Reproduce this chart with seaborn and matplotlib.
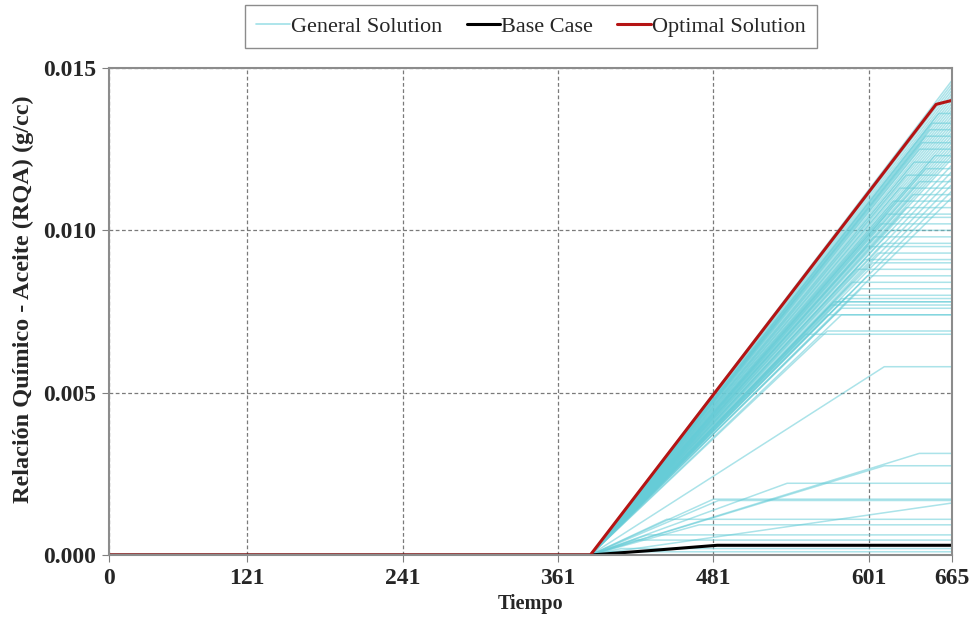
import numpy as np
import pandas as pd
import matplotlib
matplotlib.use("Agg")
import matplotlib.pyplot as plt
from matplotlib.lines import Line2D
import seaborn as sns

# curvas generales: todas arrancan en t=386 con 0, suben hasta (corte, pico) y luego quedan planas
inicio = 386
t_fin = 665
gen_corte = [665, 665, 665, 665, 665, 665, 665, 665, 665, 665,
             665, 665, 665, 665, 665, 665, 665, 665, 665, 665,
             665, 665, 665, 665, 665, 665, 665, 665, 665, 665, 665,
             655, 650, 648, 645, 642, 640, 652, 636, 645, 630,
             640, 625, 635, 620, 630, 615, 625, 610, 618, 605,
             612, 600, 608, 598, 604, 592, 600, 588, 595, 585,
             580, 576, 574, 572, 580, 569, 580, 569, 552, 613,
             640, 613, 538, 481, 485, 665, 445, 470, 430, 420, 410, 400]
gen_pico = [0.0146, 0.0145, 0.0144, 0.0143, 0.0142, 0.0141, 0.0140, 0.0139, 0.0138, 0.0137,
            0.0136, 0.0135, 0.0134, 0.0133, 0.0132, 0.0131, 0.0130, 0.0129, 0.0128, 0.0127,
            0.0126, 0.0125, 0.0124, 0.0123, 0.0122, 0.0120, 0.0118, 0.0116, 0.0114, 0.0112, 0.0110,
            0.0136, 0.0133, 0.0131, 0.0129, 0.0127, 0.0125, 0.0123, 0.0121, 0.0119, 0.0117,
            0.0115, 0.0113, 0.0111, 0.0109, 0.0107, 0.0105, 0.0104, 0.0102, 0.0100, 0.0098,
            0.0096, 0.0095, 0.0093, 0.0091, 0.0090, 0.0088, 0.0086, 0.0084, 0.0082, 0.0080,
            0.0079, 0.0078, 0.0078, 0.0077, 0.0076, 0.0074, 0.0074, 0.0069, 0.0068, 0.0058,
            0.00313, 0.00275, 0.00221, 0.00172, 0.00168, 0.00160, 0.0011, 0.00093, 0.00062, 0.00046, 0.0002, 0.0001]

base_t = [14, 386, 430, 484, 665]
base_v = [0.0, 0.0, 0.00013, 0.0003, 0.0003]

opt_t = [14, 386, 653, 665]
opt_v = [0.0, 0.0, 0.01388, 0.0140]

x_ticks = [14, 121, 241, 361, 481, 601, 665]
x_labels = ["0", "121", "241", "361", "481", "601", "665"]
y_ticks = [0.0, 0.005, 0.010, 0.015]

rows = []
for i, (tc, vp) in enumerate(zip(gen_corte, gen_pico)):
    for t, v in [(14, 0.0), (inicio, 0.0), (tc, vp), (t_fin, vp)]:
        rows.append({"run": i, "Tiempo": t, "RQA": v})
df = pd.DataFrame(rows)
df_base = pd.DataFrame({"Tiempo": base_t, "RQA": base_v})
df_opt = pd.DataFrame({"Tiempo": opt_t, "RQA": opt_v})

sns.set_style("white")
plt.rcParams["font.family"] = ["Liberation Serif", "DejaVu Serif"]

cyan = "#66ccd7"
red = "#b51414"

fig = plt.figure(figsize=(9.79, 6.28), dpi=100)
ax = fig.add_axes([0.111, 0.1162, 0.861, 0.7755])

sns.lineplot(data=df, x="Tiempo", y="RQA", units="run", estimator=None,
             color=cyan, alpha=0.55, lw=1.1, ax=ax, sort=False)
sns.lineplot(data=df_base, x="Tiempo", y="RQA", color="black", lw=2.2, ax=ax)
sns.lineplot(data=df_opt, x="Tiempo", y="RQA", color=red, lw=2.2, ax=ax)

ax.set_xlim(14, 665)
ax.set_ylim(0, 0.015)
ax.set_xticks(x_ticks)
ax.set_xticklabels(x_labels)
ax.set_yticks(y_ticks)
ax.set_yticklabels([f"{v:.3f}" for v in y_ticks])
ax.tick_params(axis="both", labelsize=17, length=5, color="#808080", direction="out",
               bottom=True, left=True, pad=4)
for lab in ax.get_xticklabels() + ax.get_yticklabels():
    lab.set_fontweight("bold")
ax.grid(True, ls=(0, (3, 2)), color="#7a7a7a", lw=0.9)
for s in ax.spines.values():
    s.set_color("#8c8c8c")
    s.set_linewidth(1.5)

ax.set_xlabel("Tiempo", fontsize=14.5, fontweight="bold", labelpad=4)
ax.set_ylabel("Relación Químico - Aceite (RQA) (g/cc)", fontsize=17.5, fontweight="bold")
ax.yaxis.set_label_coords(-0.088, 0.525)

handles = [Line2D([], [], color="#9fe0e8", lw=1.2),
           Line2D([], [], color="black", lw=2.2),
           Line2D([], [], color=red, lw=2.2)]
fig.legend(handles, ["General Solution", "Base Case", "Optimal Solution"],
           loc="upper center", bbox_to_anchor=(0.5424, 0.992), ncol=3, fontsize=16,
           frameon=True, fancybox=False, edgecolor="#707070", handlelength=1.5,
           handletextpad=0.05, columnspacing=1.1, borderpad=0.5, borderaxespad=0)

fig.savefig("out.png", dpi=100)
